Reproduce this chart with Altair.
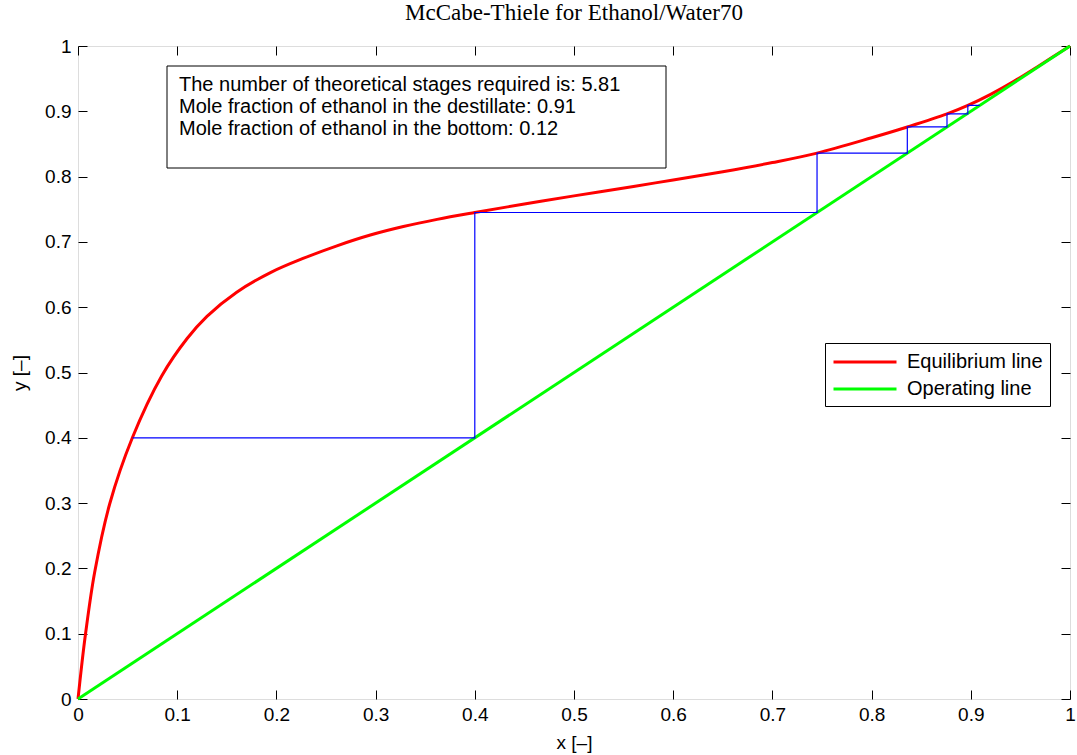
import altair as alt
import pandas as pd

# ---------------- data ----------------
eq_x = [0.0, 0.0036, 0.0077, 0.0168, 0.032, 0.0548, 0.0845, 0.110, 0.130, 0.160,
        0.194, 0.2275, 0.261, 0.2947, 0.328, 0.362, 0.40, 0.45, 0.50, 0.56,
        0.60, 0.65, 0.70, 0.745, 0.80, 0.836, 0.876, 0.897, 0.92, 0.943,
        0.97, 1.0]
eq_y = [0.0, 0.050, 0.101, 0.194, 0.299, 0.400, 0.495, 0.552, 0.586, 0.623,
        0.653, 0.675, 0.694, 0.7105, 0.7235, 0.7345, 0.745, 0.758, 0.7705, 0.785,
        0.7948, 0.8075, 0.8215, 0.836, 0.8595, 0.876, 0.896, 0.909, 0.926, 0.9455,
        0.971, 1.0]
op_x = [0.0, 1.0]
op_y = [0.0, 1.0]
stair_x = [0.055, 0.400, 0.400, 0.745, 0.745, 0.836, 0.836, 0.876, 0.876, 0.897, 0.897, 0.909]
stair_y = [0.400, 0.400, 0.745, 0.745, 0.836, 0.836, 0.876, 0.876, 0.896, 0.896, 0.909, 0.909]
series_names = ["Equilibrium line", "Operating line"]
series_colors = ["#ff0000", "#00ff00"]
info_lines = [
    "The number of theoretical stages required is: 5.81",
    "Mole fraction of ethanol in the destillate: 0.91",
    "Mole fraction of ethanol in the bottom: 0.12",
]
title_text = "McCabe-Thiele for Ethanol/Water70"
x_title = "x [\u2013]"
y_title = "y [\u2013]"
tick_values = [0, 0.1, 0.2, 0.3, 0.4, 0.5, 0.6, 0.7, 0.8, 0.9, 1]

# ---------------- tables ----------------
lines_df = pd.DataFrame({
    "x": eq_x + op_x,
    "y": eq_y + op_y,
    "series": [series_names[0]] * len(eq_x) + [series_names[1]] * len(op_x),
    "order": list(range(len(eq_x))) + list(range(len(op_x))),
})
stair_df = pd.DataFrame({"x": stair_x, "y": stair_y, "order": list(range(len(stair_x)))})
info_df = pd.DataFrame({"text": ["\n".join(info_lines)]})

W, H = 992, 653
FONT = "Liberation Sans"
FS = 19

xs = alt.Scale(domain=[0, 1], nice=False, zero=False)
ys = alt.Scale(domain=[0, 1], nice=False, zero=False)

common = dict(values=tick_values, format="~g", grid=False, domain=False, labelFlush=False,
              ticks=True, tickSize=9, tickColor="black", tickWidth=1, offset=-9,
              labelFont=FONT, labelFontSize=FS, labelColor="black",
              titleFont=FONT, titleFontSize=FS, titleColor="black", titleFontWeight="normal")

x_bottom = alt.Axis(orient="bottom", title=x_title, labelPadding=6, titlePadding=9, **common)
y_left = alt.Axis(orient="left", title=y_title, labelPadding=7, titlePadding=15, **common)
x_top = alt.Axis(orient="top", title=None, labels=False, **common)
y_right = alt.Axis(orient="right", title=None, labels=False, **common)

lines = alt.Chart(lines_df).mark_line(strokeWidth=3, interpolate="catmull-rom").encode(
    x=alt.X("x:Q", scale=xs, axis=x_bottom),
    y=alt.Y("y:Q", scale=ys, axis=y_left),
    color=alt.Color("series:N", scale=alt.Scale(domain=series_names, range=series_colors),
                    legend=alt.Legend(title=None, orient="none", legendX=747, legendY=297,
                                      symbolType="M-3,0H3", symbolSize=441, symbolStrokeWidth=3,
                                      symbolOffset=21,
                                      labelFont=FONT, labelFontSize=20, labelColor="black",
                                      labelOffset=30, padding=7, rowPadding=5,
                                      strokeColor="black", fillColor="white", cornerRadius=0)),
    order="order:Q",
)

frame = alt.Chart(lines_df).mark_point(opacity=0).encode(
    x=alt.X("x:Q", scale=xs, axis=x_top),
    y=alt.Y("y:Q", scale=ys, axis=y_right),
)

stairs = alt.Chart(stair_df).mark_line(color="#0000ff", strokeWidth=1.2).encode(
    x=alt.X("x:Q", scale=xs, axis=None),
    y=alt.Y("y:Q", scale=ys, axis=None),
    order="order:Q",
)

box = alt.Chart(info_df).mark_rect(fill="white", stroke="black", strokeWidth=1).encode(
    x=alt.value(89), x2=alt.value(588), y=alt.value(20), y2=alt.value(122),
)
info = alt.Chart(info_df).mark_text(align="left", baseline="alphabetic", font=FONT,
                                    fontSize=20, lineHeight=22, lineBreak="\n",
                                    color="black").encode(
    x=alt.value(101), y=alt.value(45), text="text:N",
)

chart = alt.layer(lines, frame, stairs, box, info).resolve_axis(
    x="independent", y="independent"
).properties(
    width=W, height=H,
    title=alt.TitleParams(title_text, font="Liberation Serif", fontSize=23, fontWeight="normal",
                          color="black", anchor="middle", offset=12),
    autosize=alt.AutoSizeParams(type="none"),
    padding={"left": 78, "top": 46, "right": 7, "bottom": 56},
).configure_view(stroke="black", strokeWidth=1).configure(background="white")

chart.save("out.html", embed_options={"renderer": "svg", "actions": False})
